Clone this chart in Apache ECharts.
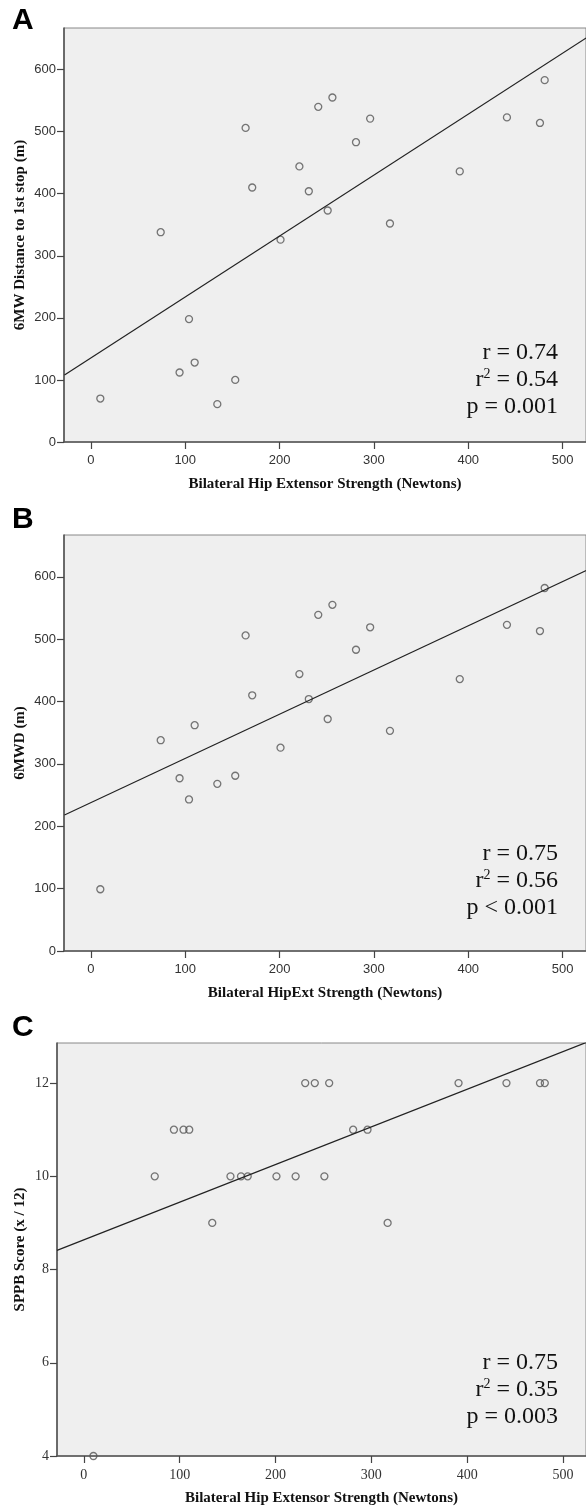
<!DOCTYPE html>
<html>
<head>
<meta charset="utf-8">
<script src="https://cdn.jsdelivr.net/npm/echarts@6/dist/echarts.min.js"></script>
<style>
html, body { margin: 0; padding: 0; background: #fff; }
#chart { width: 586px; height: 1507px; }
</style>
</head>
<body>
<div id="chart"></div>
<script>
// same 22 subjects in every panel
var hipStrength = [10, 74, 94, 104, 110, 134, 153, 164, 171, 201, 221, 231, 241, 251, 256, 281, 296, 317, 391, 441, 476, 481];
var distFirstStop = [70, 338, 112, 198, 128, 61, 100, 506, 410, 326, 444, 404, 540, 373, 555, 483, 521, 352, 436, 523, 514, 583];
var sixMWD = [99, 338, 277, 243, 362, 268, 281, 506, 410, 326, 444, 404, 539, 372, 555, 483, 519, 353, 436, 523, 513, 582];
var sppb = [4, 10, 11, 11, 11, 9, 10, 10, 10, 10, 10, 12, 12, 10, 12, 11, 11, 9, 12, 12, 12, 12];

// regression lines (end points)
var fitA = [[-28, 108], [525, 651]];
var fitB = [[-28, 218], [525, 610]];
var fitC = [[-28, 8.41], [524, 12.87]];

var xTicks = [0, 100, 200, 300, 400, 500];
var yTicksAB = [0, 100, 200, 300, 400, 500, 600];
var yTicksC = [4, 6, 8, 10, 12];

var statsA = ['0.74', '0.54', 'p = 0.001'];
var statsB = ['0.75', '0.56', 'p < 0.001'];
var statsC = ['0.75', '0.35', 'p = 0.003'];

function pairs(xs, ys) {
    var out = [];
    for (var i = 0; i < xs.length; i++) out.push([xs[i], ys[i]]);
    return out;
}

var sans = 'Liberation Sans';
var serif = 'Liberation Serif';

function xAxisOf(idx, min, max, name, font, size) {
    return {
        type: 'value', gridIndex: idx, min: min, max: max,
        name: name, nameLocation: 'middle', nameGap: 35,
        nameTextStyle: {fontFamily: serif, fontWeight: 'bold', fontSize: 15, color: '#111'},
        axisLine: {show: true, onZero: false, lineStyle: {color: '#555', width: 1.6}},
        axisTick: {show: true, length: 7, customValues: xTicks, lineStyle: {color: '#444', width: 1.2}},
        axisLabel: {customValues: xTicks, margin: 12, fontFamily: font, fontSize: size, color: '#333'},
        splitLine: {show: false}
    };
}
function yAxisOf(idx, min, max, ticks, name, gap, font, size) {
    return {
        type: 'value', gridIndex: idx, min: min, max: max,
        name: name, nameLocation: 'middle', nameGap: gap, nameRotate: 90,
        nameMoveOverlap: false,
        nameTextStyle: {fontFamily: serif, fontWeight: 'bold', fontSize: 15, color: '#111'},
        axisLine: {show: true, onZero: false, lineStyle: {color: '#555', width: 1.6}},
        axisTick: {show: true, length: 7, customValues: ticks, lineStyle: {color: '#444', width: 1.2}},
        axisLabel: {customValues: ticks, margin: 8, fontFamily: font, fontSize: size, color: '#333'},
        splitLine: {show: false}
    };
}

function dots(idx, data) {
    return {
        type: 'scatter', xAxisIndex: idx, yAxisIndex: idx, data: data,
        symbol: 'circle', symbolSize: 7,
        itemStyle: {color: 'rgba(0,0,0,0)', borderColor: '#555', borderWidth: 1.3},
        silent: true
    };
}
function fitLine(idx, data) {
    return {
        type: 'line', xAxisIndex: idx, yAxisIndex: idx, data: data,
        showSymbol: false, symbol: 'none', clip: true,
        lineStyle: {color: '#222', width: 1.2}, silent: true
    };
}

function statTexts(y, s) {
    var base = {fontFamily: serif, fontSize: 24, fill: '#111', align: 'right', verticalAlign: 'middle'};
    return [
        {type: 'text', x: 558, y: y, style: Object.assign({text: 'r = ' + s[0]}, base)},
        {type: 'text', x: 558, y: y + 27, style: Object.assign({
            text: '{n|r}{s|2}{n| = ' + s[1] + '}',
            rich: {
                n: {fontFamily: serif, fontSize: 24, fill: '#111'},
                s: {fontFamily: serif, fontSize: 14, fill: '#111', padding: [0, 0, 12, 0]}
            }
        }, base)},
        {type: 'text', x: 558, y: y + 54, style: Object.assign({text: s[2]}, base)}
    ];
}
function letter(txt, y) {
    return {type: 'text', x: 12, y: y, style: {text: txt, fontFamily: sans, fontWeight: 'bold',
        fontSize: 30, fill: '#000', verticalAlign: 'middle'}};
}

var chart = echarts.init(document.getElementById('chart'), null, {renderer: 'canvas'});
var gridStyle = {show: true, backgroundColor: '#efefef', borderColor: '#888', borderWidth: 1};

chart.setOption({
    animation: false,
    backgroundColor: '#fff',
    grid: [
        Object.assign({left: 64, right: -2, top: 28, height: 414}, gridStyle),
        Object.assign({left: 64, right: -2, top: 535, height: 416}, gridStyle),
        Object.assign({left: 57, right: -2, top: 1043, height: 414}, gridStyle)
    ],
    xAxis: [
        xAxisOf(0, -28.5, 524.8, 'Bilateral Hip Extensor Strength (Newtons)', sans, 13),
        xAxisOf(1, -28.5, 524.8, 'Bilateral HipExt Strength (Newtons)', sans, 13),
        xAxisOf(2, -28, 524, 'Bilateral Hip Extensor Strength (Newtons)', serif, 14)
    ],
    yAxis: [
        yAxisOf(0, 0, 667, yTicksAB, '6MW Distance to 1st stop (m)', 36, sans, 13),
        yAxisOf(1, 0, 667, yTicksAB, '6MWD (m)', 36, sans, 13),
        yAxisOf(2, 4, 12.86, yTicksC, 'SPPB Score (x / 12)', 29, serif, 14)
    ],
    series: [
        fitLine(0, fitA), dots(0, pairs(hipStrength, distFirstStop)),
        fitLine(1, fitB), dots(1, pairs(hipStrength, sixMWD)),
        fitLine(2, fitC), dots(2, pairs(hipStrength, sppb))
    ],
    graphic: [letter('A', 21), letter('B', 520), letter('C', 1028)]
        .concat(statTexts(353, statsA))
        .concat(statTexts(854, statsB))
        .concat(statTexts(1363, statsC))
});
</script>
</body>
</html>
